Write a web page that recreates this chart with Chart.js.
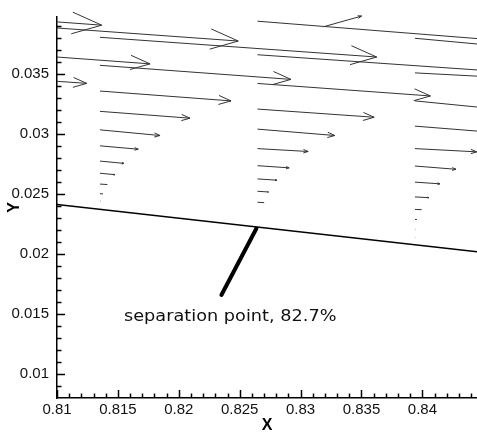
<!DOCTYPE html>
<html>
<head>
<meta charset="utf-8">
<script src="https://cdn.jsdelivr.net/npm/chart.js@4.4.1/dist/chart.umd.min.js"></script>
<style>
  html, body { margin: 0; padding: 0; background: #fff; }
  canvas { display: block; }
</style>
</head>
<body>
<canvas id="flow" width="477" height="435"></canvas>
<script>
// major ticks (minor ticks every 0.001)
const xTicks = [0.81, 0.815, 0.82, 0.825, 0.83, 0.835, 0.84];
const yTicks = [0.01, 0.015, 0.02, 0.025, 0.03, 0.035];

// wall surface
const wallX = [0.81, 0.8445];
const wallY = [0.02412, 0.02019];

// separation marker + label
const sepX = [0.8235, 0.82637];
const sepY = [0.0166, 0.02213];
const sepText = 'separation point, 82.7%';
const sepTextX = 0.8155;
const sepTextY = 0.01445;

// velocity vectors: tail (vecX, vecY) and components (vecU, vecV)
// stations at 0.78775 and 0.80064 sit left of the window, only their tips show
const vecX = [
  0.78775,
  0.80064, 0.80064, 0.80064,
  0.81353, 0.81353, 0.81353, 0.81353, 0.81353, 0.81353, 0.81353, 0.81353, 0.81353, 0.81353, 0.81353,
  0.82646, 0.82646, 0.82646, 0.82646, 0.82646, 0.82646, 0.82646, 0.82646, 0.82646, 0.82646, 0.82646,
  0.83186,
  0.83939, 0.83939, 0.83939, 0.83939, 0.83939, 0.83939, 0.83939, 0.83939, 0.83939, 0.83939, 0.83939, 0.83939
];
const vecY = [
  0.04098,
  0.0395, 0.0371, 0.03503,
  0.03804, 0.03571, 0.03357, 0.03188, 0.03034, 0.02901, 0.02774, 0.02673, 0.02583, 0.02503, 0.02441,
  0.03938, 0.03659, 0.0342, 0.03207, 0.0304, 0.02878, 0.02736, 0.02626, 0.02523, 0.02432, 0.02344,
  0.03891,
  0.03796, 0.03508, 0.03275, 0.03065, 0.02878, 0.02733, 0.02599, 0.02476, 0.02372, 0.02289, 0.02207, 0.02139
];
const vecU = [
  0.02592,
  0.02424, 0.0170, 0.0118,
  0.02272, 0.01568, 0.01076, 0.00739, 0.00493, 0.00314, 0.00197, 0.00123, 0.0006, 0.00025, 0.00004,
  0.0271, 0.02053, 0.0142, 0.00958, 0.00635, 0.00416, 0.0026, 0.00159, 0.0009, 0.00055, 0.00004,
  0.00315,
  0.0238, 0.01765, 0.0119, 0.0078, 0.00507, 0.00337, 0.00205, 0.00115, 0.00055, 0.00016, 0.00003, 0.00002
];
const vecV = [
  -0.00193,
  -0.00177, -0.00127, -0.00082,
  -0.00164, -0.00117, -0.00082, -0.00057, -0.00047, -0.00028, -0.00019, -0.00012, -0.00004, -0.00002, 0,
  -0.00217, -0.00144, -0.00104, -0.00068, -0.00053, -0.00024, -0.00018, -0.00011, -0.00006, -0.00004, 0,
  0.0009,
  -0.00222, -0.00094, -0.00119, -0.00063, -0.00027, -0.00027, -0.00014, -0.00006, -0.00002, -0.00001, 0, 0
];

const ink = '#000';
const arrowInk = '#333';

// one line dataset for all shafts, broken by null points
const shafts = [];
vecX.forEach((x, i) => {
  shafts.push({x: x, y: vecY[i]});
  shafts.push({x: x + vecU[i], y: vecY[i] + vecV[i]});
  shafts.push({x: x, y: null});
});

const arrowHeads = {
  id: 'arrowHeads',
  afterDatasetsDraw(chart) {
    const {ctx, chartArea: area, scales: {x, y}} = chart;
    const spread = 20 * Math.PI / 180;
    ctx.save();
    ctx.beginPath();
    ctx.rect(area.left, 0, chart.width - area.left, area.bottom);
    ctx.clip();
    ctx.strokeStyle = arrowInk;
    ctx.lineWidth = 1;
    vecX.forEach((vx, i) => {
      const x0 = x.getPixelForValue(vx), y0 = y.getPixelForValue(vecY[i]);
      const x1 = x.getPixelForValue(vx + vecU[i]), y1 = y.getPixelForValue(vecY[i] + vecV[i]);
      const head = 0.1 * Math.hypot(x1 - x0, y1 - y0);
      if (head < 1) return;
      const a = Math.atan2(y1 - y0, x1 - x0);
      ctx.beginPath();
      ctx.moveTo(x1 - head * Math.cos(a - spread), y1 - head * Math.sin(a - spread));
      ctx.lineTo(x1, y1);
      ctx.lineTo(x1 - head * Math.cos(a + spread), y1 - head * Math.sin(a + spread));
      ctx.stroke();
    });
    ctx.restore();
  }
};

// inward tick marks and the marker label
const decorations = {
  id: 'decorations',
  afterDraw(chart) {
    const {ctx, chartArea: area, scales: {x, y}} = chart;
    const isMajor = (list, v) => list.some(t => Math.abs(t - v) < 1e-9);
    ctx.save();
    ctx.strokeStyle = '#000000';
    ctx.lineWidth = 1.5;
    for (let k = 810; k <= 844; k++) {
      const px = Math.round(x.getPixelForValue(k / 1000)) + 0.5;
      const len = isMajor(xTicks, k / 1000) ? 8 : 4.5;
      ctx.beginPath();
      ctx.moveTo(px, area.bottom);
      ctx.lineTo(px, area.bottom - len);
      ctx.stroke();
    }
    for (let k = 9; k <= 39; k++) {
      const py = Math.round(y.getPixelForValue(k / 1000)) + 0.5;
      const len = isMajor(yTicks, k / 1000) ? 8 : 4.5;
      ctx.beginPath();
      ctx.moveTo(area.left, py);
      ctx.lineTo(area.left + len, py);
      ctx.stroke();
    }

    ctx.fillStyle = '#111';
    ctx.font = '15px "DejaVu Sans"';
    ctx.textBaseline = 'alphabetic';
    ctx.textAlign = 'left';
    ctx.translate(x.getPixelForValue(sepTextX), y.getPixelForValue(sepTextY));
    ctx.scale(1.18, 1);
    ctx.fillText(sepText, 0, 0);
    ctx.restore();
  }
};

const tickFont = {family: '"Liberation Sans", Arial, sans-serif', size: 15};
const titleFont = {family: '"Liberation Sans", Arial, sans-serif', size: 16, weight: 'bold'};

new Chart(document.getElementById('flow'), {
  type: 'scatter',
  data: {
    datasets: [
      {
        data: shafts,
        showLine: true,
        borderColor: arrowInk,
        borderWidth: 1,
        pointRadius: 0,
        clip: {left: 0, top: 12, right: 0, bottom: 0}
      },
      {
        data: wallX.map((x, i) => ({x: x, y: wallY[i]})),
        showLine: true,
        borderColor: ink,
        borderWidth: 1.5,
        pointRadius: 0
      },
      {
        data: sepX.map((x, i) => ({x: x, y: sepY[i]})),
        showLine: true,
        borderColor: ink,
        borderWidth: 4,
        borderCapStyle: 'round',
        pointRadius: 0
      }
    ]
  },
  options: {
    responsive: false,
    animation: false,
    layout: {padding: {top: 12, left: 0, right: 0, bottom: 0}},
    plugins: {legend: {display: false}, tooltip: {enabled: false}},
    scales: {
      x: {
        type: 'linear',
        min: 0.81,
        max: 0.844483,
        afterBuildTicks: s => { s.ticks = xTicks.map(v => ({value: v})); },
        afterFit: s => { s.height = 37; },
        grid: {display: false, drawTicks: false},
        border: {display: true, color: ink, width: 1.5},
        ticks: {color: '#111', padding: 3, font: tickFont, maxRotation: 0, autoSkip: false, callback: v => String(v)},
        title: {display: true, text: 'X', color: ink, font: titleFont, padding: {top: 0, bottom: 0}}
      },
      y: {
        type: 'linear',
        min: 0.00803,
        max: 0.03973,
        afterBuildTicks: s => { s.ticks = yTicks.map(v => ({value: v})); },
        afterFit: s => { s.width = 57; },
        grid: {display: false, drawTicks: false},
        border: {display: true, color: ink, width: 1.5},
        ticks: {color: '#111', padding: 8, font: tickFont, autoSkip: false, callback: v => String(v)},
        title: {display: true, text: 'Y', color: ink, font: titleFont, padding: {top: 5, bottom: 0}}
      }
    }
  },
  plugins: [arrowHeads, decorations]
});
</script>
</body>
</html>
